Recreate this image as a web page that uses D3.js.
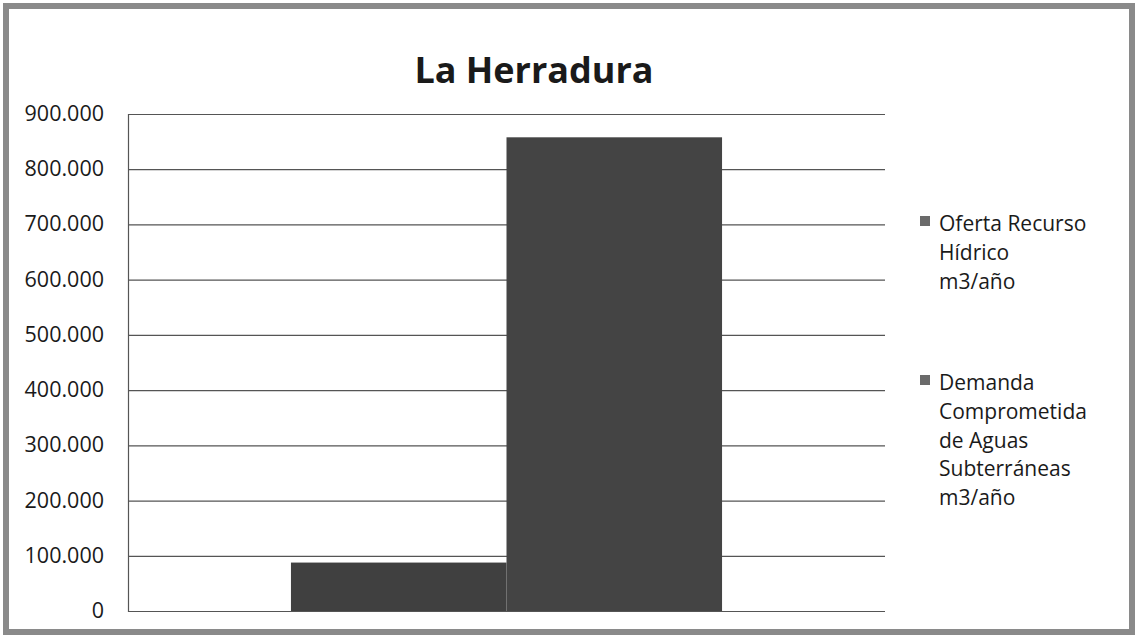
<!DOCTYPE html>
<html>
<head>
<meta charset="utf-8">
<script src="https://cdn.jsdelivr.net/npm/d3@7"></script>
<style>
  body { margin: 0; background: #fff; }
  svg { display: block; font-family: "Open Sans", Lato, sans-serif; }
</style>
</head>
<body>
<div id="chart"></div>
<script>
// chart data
const categories = ["La Herradura"];
const seriesNames = [
    ["Oferta Recurso", "Hídrico", "m3/año"],
    ["Demanda", "Comprometida", "de Aguas", "Subterráneas", "m3/año"]
];
const seriesValues = [87700, 857800];
const yTicks = [0, 100000, 200000, 300000, 400000, 500000, 600000, 700000, 800000, 900000];
const seriesColors = ["#404040", "#444444"];

const width = 1138, height = 638;
const margin = { top: 114, right: 253, bottom: 27, left: 128 };

const svg = d3.select("#chart")
    .append("svg")
    .attr("width", width)
    .attr("height", height);

// white background and grey frame
svg.append("rect")
    .attr("x", 6).attr("y", 6)
    .attr("width", width - 12).attr("height", height - 12)
    .attr("fill", "#fff")
    .attr("stroke", "#8a8a8a")
    .attr("stroke-width", 6);

const locale = d3.formatLocale({ decimal: ",", thousands: ".", grouping: [3], currency: ["", ""] });
const fmt = locale.format(",d");

const y = d3.scaleLinear()
    .domain([0, 900000])
    .range([height - margin.bottom, margin.top]);

const x0 = d3.scaleBand()
    .domain(categories)
    .range([margin.left, width - margin.right])
    .paddingInner(0)
    .paddingOuter(0.378);

const x1 = d3.scaleBand()
    .domain(d3.range(seriesValues.length))
    .range([0, x0.bandwidth()]);

// gridlines + y labels
const yAxis = d3.axisLeft(y)
    .tickValues(yTicks)
    .tickFormat(fmt)
    .tickSize(-(width - margin.left - margin.right))
    .tickPadding(24);

const gy = svg.append("g")
    .attr("transform", `translate(${margin.left},0)`)
    .call(yAxis)
    .attr("font-family", null)
    .attr("font-size", null);
gy.select(".domain").attr("stroke", "#555").attr("stroke-width", 1.2);
gy.selectAll(".tick line").attr("stroke", "#555").attr("stroke-width", 1.2);
gy.selectAll(".tick text")
    .attr("fill", "#1a1a1a")
    .attr("dy", "0.3em")
    .style("font-size", "21.5px");

// bars
svg.append("g")
    .selectAll("rect")
    .data(seriesValues)
    .join("rect")
    .attr("x", (d, i) => x0(categories[0]) + x1(i))
    .attr("y", d => y(d))
    .attr("width", x1.bandwidth())
    .attr("height", d => y(0) - y(d))
    .attr("fill", (d, i) => seriesColors[i]);

// title
svg.append("text")
    .attr("x", 534)
    .attr("y", 83)
    .attr("text-anchor", "middle")
    .attr("fill", "#1a1a1a")
    .style("font-size", "36px")
    .style("font-weight", "bold")
    .text(categories[0]);

// legend
const legendTop = [231, 390];
const legend = svg.append("g");
seriesNames.forEach((lines, i) => {
    const g = legend.append("g").attr("transform", `translate(920,${legendTop[i]})`);
    g.append("rect")
        .attr("x", 0).attr("y", -15)
        .attr("width", 10).attr("height", 10)
        .attr("fill", "#6a6a6a");
    g.selectAll("text")
        .data(lines)
        .join("text")
        .attr("x", 19)
        .attr("y", (d, j) => j * 28.8)
        .attr("fill", "#1a1a1a")
        .style("font-size", "21px")
        .text(d => d);
});
</script>
</body>
</html>
